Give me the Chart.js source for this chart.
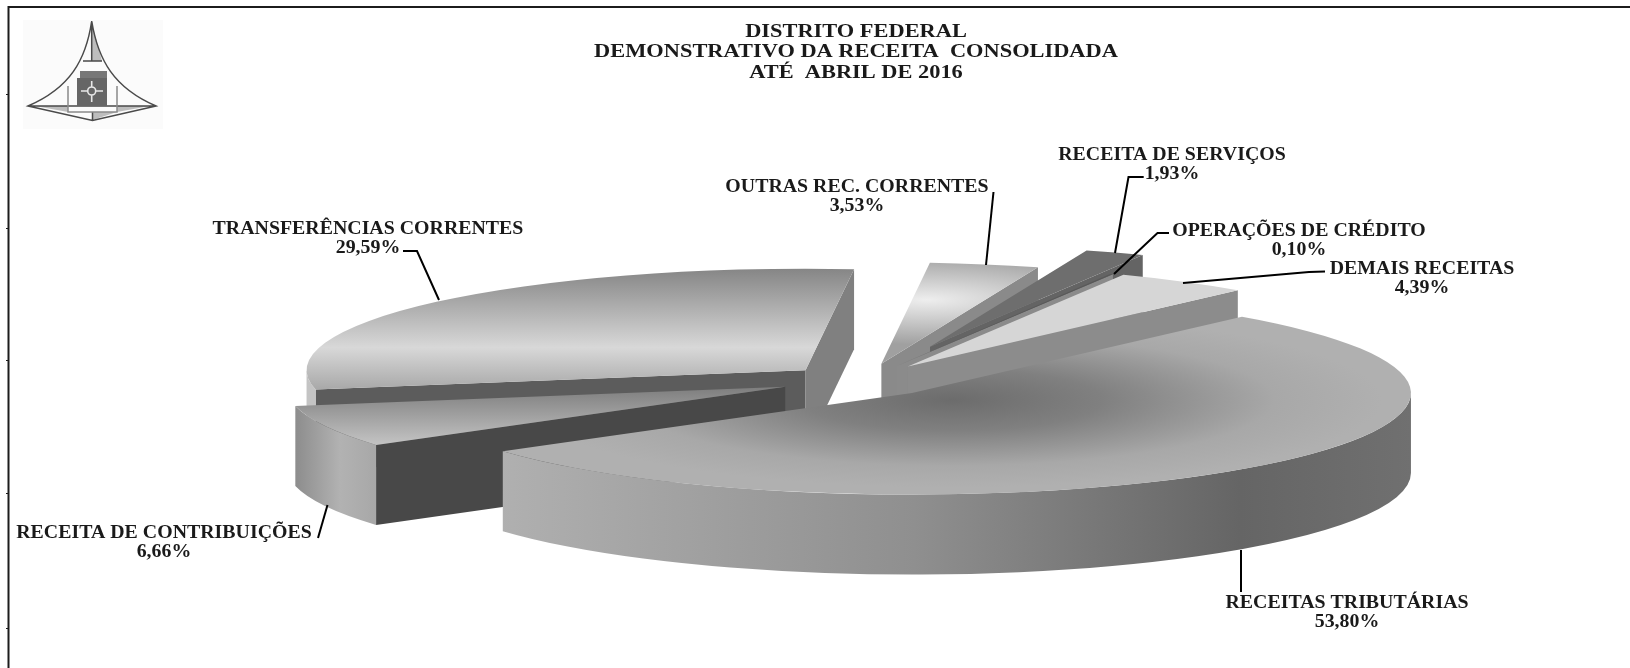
<!DOCTYPE html>
<html>
<head>
<meta charset="utf-8">
<title>Demonstrativo da Receita Consolidada</title>
<script src="https://cdn.jsdelivr.net/npm/chart.js@4"></script>
<style>
  html, body { margin: 0; padding: 0; background: #fff; }
  canvas { display: block; }
</style>
</head>
<body>
<canvas id="receita-chart" width="1630" height="668"></canvas>
<script>
// chart data
const titleLines = ['DISTRITO FEDERAL', 'DEMONSTRATIVO DA RECEITA  CONSOLIDADA', 'ATÉ  ABRIL DE 2016'];
const categories = ['RECEITAS TRIBUTÁRIAS', 'RECEITA DE CONTRIBUIÇÕES', 'TRANSFERÊNCIAS CORRENTES', 'OUTRAS REC. CORRENTES', 'RECEITA DE SERVIÇOS', 'OPERAÇÕES DE CRÉDITO', 'DEMAIS RECEITAS'];
const shares = [53.80, 6.66, 29.59, 3.53, 1.93, 0.10, 4.39];

// how the 3d pie is laid out
const pieX = 860, pieY = 380.5, pieRadius = 499, tilt = 0.2035, depth = 80;
const firstSliceAngle = 41.4;
const explode = [82.5, 79, 75, 84, 178, 80, 83];
const nudgeX = [-3, -2, 1, 4, 4, 3, 2]; // the original isnt quite radial
const drawOrder = [3, 4, 5, 6, 2, 1, 0]; // back to front

// cut faces of each slice, null when it cant be seen
const startFaceGrey = [null, '#484848', '#5c5c5c', null, null, null, null];
const endFaceGrey = [null, null, '#808080', '#8a8a8a', '#646464', '#8b8b8b', '#8c8c8c'];

// outer wall shading, left to right on screen
const wallStops = [
    [[500, '#b0b0b0'], [915, '#8f8f8f'], [1240, '#656565'], [1411, '#707070']],
    [[297, '#8e8e8e'], [340, '#b2b2b2'], [375, '#a8a8a8']],
    [[295, '#c4c4c4'], [320, '#c4c4c4']],
    null, null, null, null
];

// label text boxes and leader lines
const labelPos = [[1347, 603.5], [164, 533.5], [368, 229], [857, 187], [1172, 155], [1299, 231], [1422, 269]];
const leaders = [
    [[1241, 592], [1241, 550]],
    [[318, 538], [327.5, 505]],
    [[403, 251], [417, 251], [439, 300]],
    [[993.5, 192], [986, 265]],
    [[1143.7, 177], [1128.5, 177], [1115, 253]],
    [[1169, 233], [1157.5, 233], [1114, 274]],
    [[1325, 271.5], [1309, 272], [1183, 283]]
];
const frameTicks = [94, 228, 360, 493, 628];

function apexOf(arc, i) {
    const mid = (arc.startAngle + arc.endAngle) / 2;
    return { x: pieX + nudgeX[i] + Math.cos(mid) * explode[i], y: pieY + Math.sin(mid) * explode[i] * tilt };
}

// fill of the top of each slice. gradient is made in the flat (not tilted) space of the arc
function topFill(context) {
    const chart = context.chart;
    const i = context.dataIndex;
    const g = chart.ctx;
    if (!chart.chartArea) return '#888888'; // not laid out yet
    const cx = (chart.chartArea.left + chart.chartArea.right) / 2;
    const cy = (chart.chartArea.top + chart.chartArea.bottom) / 2;
    // screen y -> flat y, measured from the apex
    const linear = (apexY, y0, y1) => g.createLinearGradient(0, cy + (y0 - apexY) / tilt, 0, cy + (y1 - apexY) / tilt);
    let grad;
    if (i === 0) {
        grad = g.createRadialGradient(cx + 40, cy + 7 / tilt, 0, cx + 40, cy + 7 / tilt, 430);
        grad.addColorStop(0, '#6c6c6c');
        grad.addColorStop(0.35, '#808080');
        grad.addColorStop(0.75, '#a8a8a8');
        grad.addColorStop(1, '#b0b0b0');
        return grad;
    }
    if (i === 1) {
        grad = linear(386.8, 386, 445);
        grad.addColorStop(0, '#7c7c7c');
        grad.addColorStop(1, '#c4c4c4');
        return grad;
    }
    if (i === 2) {
        grad = linear(370.2, 269, 388);
        grad.addColorStop(0, '#868686');
        grad.addColorStop(0.66, '#d8d8d8');
        grad.addColorStop(1, '#aaaaaa');
        return grad;
    }
    if (i === 3) {
        grad = g.createRadialGradient(cx + 45, cy - 64 / tilt, 0, cx + 45, cy - 64 / tilt, 220);
        grad.addColorStop(0, '#eeeeee');
        grad.addColorStop(1, '#a0a0a0');
        return grad;
    }
    return ['', '', '', '', '#6e6e6e', '#595959', '#d6d6d6'][i];
}

function cutFace(g, a, angle, colour) {
    const px = a.x + Math.cos(angle) * pieRadius;
    const py = a.y + Math.sin(angle) * pieRadius * tilt;
    g.fillStyle = colour;
    g.beginPath();
    g.moveTo(a.x, a.y);
    g.lineTo(px, py);
    g.lineTo(px, py + depth);
    g.lineTo(a.x, a.y + depth);
    g.closePath();
    g.fill();
}

function outerWall(g, a, start, end, stops) {
    // only the part of the rim facing us (0..180 deg, after normalising)
    let s = start, e = end;
    while (s > Math.PI) { s -= 2 * Math.PI; e -= 2 * Math.PI; }
    const from = Math.max(s, 0), to = Math.min(e, Math.PI);
    if (to <= from) return;
    const grad = g.createLinearGradient(stops[0][0], 0, stops[stops.length - 1][0], 0);
    const span = stops[stops.length - 1][0] - stops[0][0];
    stops.forEach(st => grad.addColorStop((st[0] - stops[0][0]) / span, st[1]));
    g.fillStyle = grad;
    g.beginPath();
    g.ellipse(a.x, a.y, pieRadius, pieRadius * tilt, 0, from, to);
    g.ellipse(a.x, a.y + depth, pieRadius, pieRadius * tilt, 0, to, from, true);
    g.closePath();
    g.fill();
}

// the reference text is stretched sideways
function wideText(g, str, x, y, stretch) {
    g.save();
    g.translate(x, y);
    g.scale(stretch, 1);
    g.fillText(str, 0, 0);
    g.restore();
}

const pie3d = {
    id: 'pie3d',
    beforeDatasetsDraw(chart) {
        const g = chart.ctx;
        const arcs = chart.getDatasetMeta(0).data;
        drawOrder.forEach(i => {
            const arc = arcs[i];
            const a = apexOf(arc, i);
            if (startFaceGrey[i]) cutFace(g, a, arc.startAngle, startFaceGrey[i]);
            if (endFaceGrey[i]) cutFace(g, a, arc.endAngle, endFaceGrey[i]);
            if (wallStops[i]) outerWall(g, a, arc.startAngle, arc.endAngle, wallStops[i]);
            g.save();
            g.translate(a.x, a.y);
            g.scale(1, tilt);
            g.translate(-arc.x, -arc.y);
            arc.draw(g);
            g.restore();
        });
        return false;
    },
    beforeDraw(chart) {
        const g = chart.ctx;
        // frame of the page
        g.strokeStyle = '#1c1c1c';
        g.lineWidth = 2;
        g.beginPath();
        g.moveTo(8.5, 668);
        g.lineTo(8.5, 7);
        g.lineTo(1630, 7);
        g.stroke();
        g.lineWidth = 1;
        frameTicks.forEach(y => {
            g.beginPath();
            g.moveTo(6, y + 0.5);
            g.lineTo(8, y + 0.5);
            g.stroke();
        });
        drawLogo(g);
    },
    afterDraw(chart) {
        const g = chart.ctx;
        g.strokeStyle = '#000';
        g.lineWidth = 2;
        leaders.forEach(line => {
            g.beginPath();
            line.forEach((p, n) => n ? g.lineTo(p[0], p[1]) : g.moveTo(p[0], p[1]));
            g.stroke();
        });
        g.fillStyle = '#1a1a1a';
        g.font = 'bold 18px "Liberation Serif"';
        g.textAlign = 'center';
        g.textBaseline = 'middle';
        titleLines.forEach((line, n) => wideText(g, line, 856, 32.5 + n * 20.3, 1.244));
        categories.forEach((name, i) => {
            wideText(g, name, labelPos[i][0], labelPos[i][1], 1.104);
            wideText(g, shares[i].toFixed(2).replace('.', ',') + '%', labelPos[i][0], labelPos[i][1] + 19, 1.104);
        });
    }
};

// brasao of the DF, top left
function drawLogo(g) {
    g.fillStyle = '#fbfbfb';
    g.fillRect(23, 20, 140, 109);
    g.fillStyle = '#bdbdbd';
    g.beginPath();
    g.moveTo(92, 24); g.lineTo(102, 61); g.lineTo(92, 61);
    g.closePath(); g.fill();
    g.beginPath();
    g.moveTo(35, 106); g.lineTo(68, 112); g.lineTo(68, 106);
    g.closePath(); g.fill();
    g.beginPath();
    g.moveTo(150, 106); g.lineTo(117, 112); g.lineTo(117, 106);
    g.closePath(); g.fill();
    g.beginPath();
    g.moveTo(92.5, 112); g.lineTo(117, 112); g.lineTo(92.5, 120);
    g.closePath(); g.fill();

    g.strokeStyle = '#4a4a4a';
    g.lineWidth = 1.5;
    g.beginPath();
    g.moveTo(91.7, 21);
    g.bezierCurveTo(86, 60, 70, 88, 28, 106);
    g.lineTo(92.5, 120.5);
    g.lineTo(156, 106);
    g.bezierCurveTo(114, 88, 98, 60, 91.7, 21);
    g.moveTo(28, 106); g.lineTo(156, 106);
    g.moveTo(91.7, 21); g.lineTo(91.7, 61);
    g.moveTo(83, 61); g.lineTo(102, 61);
    g.moveTo(92.5, 112); g.lineTo(92.5, 120);
    g.stroke();

    g.strokeStyle = '#8a8a8a';
    g.beginPath();
    g.moveTo(68, 86); g.lineTo(68, 112); g.lineTo(117, 112); g.lineTo(117, 86);
    g.stroke();

    g.fillStyle = '#666';
    g.fillRect(77, 78, 30, 28);
    g.fillStyle = '#777';
    g.fillRect(80, 71, 27, 7);
    g.strokeStyle = '#e8e8e8';
    g.lineWidth = 1.6;
    g.beginPath();
    g.moveTo(81, 91); g.lineTo(88, 91);
    g.moveTo(96, 91); g.lineTo(103, 91);
    g.moveTo(91.7, 81); g.lineTo(91.7, 87);
    g.moveTo(91.7, 95); g.lineTo(91.7, 102);
    g.moveTo(95.7, 91);
    g.arc(91.7, 91, 4, 0, 2 * Math.PI);
    g.stroke();
}

new Chart(document.getElementById('receita-chart'), {
    type: 'pie',
    data: {
        labels: categories,
        datasets: [{
            data: shares,
            backgroundColor: topFill,
            borderWidth: 0,
            clip: false
        }]
    },
    options: {
        responsive: false,
        animation: false,
        rotation: firstSliceAngle,
        radius: pieRadius,
        plugins: {
            legend: { display: false },
            tooltip: { enabled: false }
        }
    },
    plugins: [pie3d]
});
</script>
</body>
</html>
